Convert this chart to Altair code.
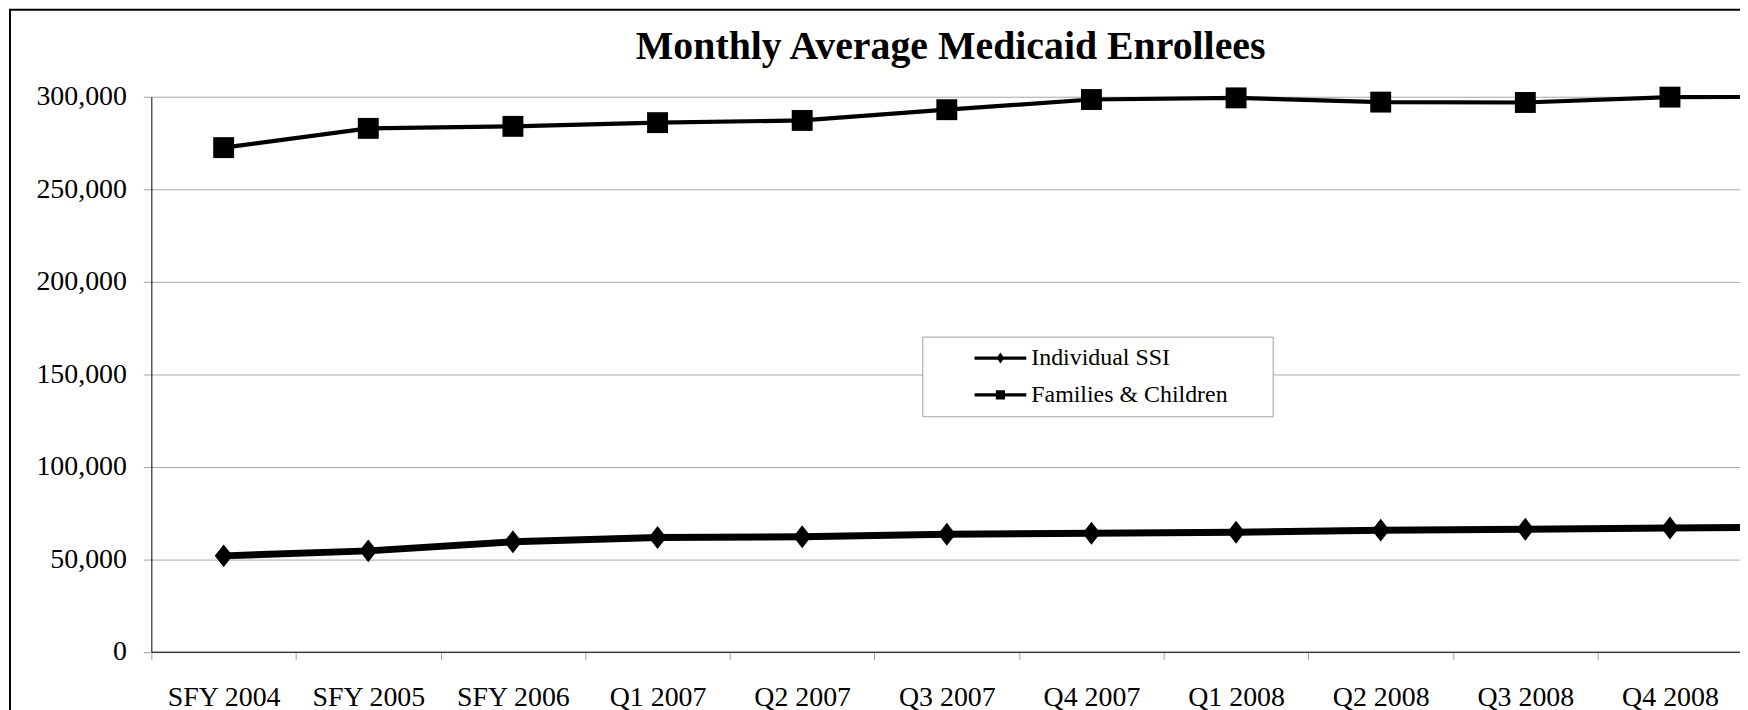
import altair as alt
import pandas as pd

# ---- data ----
periods = ["SFY 2004", "SFY 2005", "SFY 2006", "Q1 2007", "Q2 2007", "Q3 2007",
           "Q4 2007", "Q1 2008", "Q2 2008", "Q3 2008", "Q4 2008", "Q1 2009"]
individual_ssi = [51800, 54500, 59400, 61700, 62100, 63500,
                  64000, 64600, 65700, 66200, 66900, 67300]
families_children = [272500, 282900, 284000, 286000, 287200, 293000,
                     298500, 299400, 297100, 296900, 299800, 299900]
series_names = ["Individual SSI", "Families & Children"]
y_ticks = [0, 50000, 100000, 150000, 200000, 250000, 300000]
title_text = "Monthly Average Medicaid Enrollees"
hidden_label = "Q1 2009"  # lies beyond the visible edge of the chart

rows = []
for p, v in zip(periods, individual_ssi):
    rows.append({"period": p, "series": series_names[0], "value": v})
for p, v in zip(periods, families_children):
    rows.append({"period": p, "series": series_names[1], "value": v})
df = pd.DataFrame(rows)
one = pd.DataFrame({"t": [title_text]})

FONT = "Liberation Serif"
W, H = 1596, 557.5
X_RANGE = 1743.6  # 12 category bands of ~145.3px; the last one runs past the page edge

# marker / legend-symbol paths
diamond = "M0,-1L0.78,0L0,1L-0.78,0Z"
square = "M-0.913,-0.913L0.913,-0.913L0.913,0.913L-0.913,0.913Z"
leg_diamond = ("M-2.6,-0.16L2.6,-0.16L2.6,0.16L-2.6,0.16Z"
               "M0,-0.55L0.38,0L0,0.55L-0.38,0Z")
leg_square = ("M-2.6,-0.16L2.6,-0.16L2.6,0.16L-2.6,0.16Z"
              "M-0.46,-0.46L0.46,-0.46L0.46,0.46L-0.46,0.46Z")

x_enc = alt.X(
    "period:N", sort=periods, bandPosition=0.5,
    scale=alt.Scale(type="band", domain=periods, range=[0, X_RANGE],
                    paddingInner=0, paddingOuter=0),
    axis=alt.Axis(title=None, labelAngle=0, labelFont=FONT, labelFontSize=28,
                  labelColor="black", labelPadding=24, tickBand="extent",
                  tickSize=8, tickColor="#a0a0a0", domainColor="black",
                  domainWidth=1, grid=False, labelOverlap=False,
                  labelExpr=f"datum.label == '{hidden_label}' ? '' : datum.label"),
)
y_enc = alt.Y(
    "value:Q",
    scale=alt.Scale(domain=[0, 300000], nice=False, zero=True),
    axis=alt.Axis(title=None, values=y_ticks, format=",.0f", labelFont=FONT,
                  labelFontSize=28, labelColor="black", labelPadding=17,
                  tickSize=8, tickColor="#a0a0a0", domainColor="black",
                  domainWidth=1, grid=True, gridColor="#a6a6a6", gridWidth=1),
)

border = alt.Chart(one).mark_rect(fill="white", fillOpacity=0, stroke="black",
                                   strokeWidth=2).encode(
    x=alt.value(-142), x2=alt.value(1800), y=alt.value(-87.5), y2=alt.value(740)
)

legend_box = alt.Chart(one).mark_rect(fill="white", stroke="#a0a0a0",
                                       strokeWidth=1).encode(
    x=alt.value(775), x2=alt.value(1127), y=alt.value(241.5), y2=alt.value(321.5)
)

title = alt.Chart(one).mark_text(font=FONT, fontSize=40, fontWeight="bold",
                                 color="black", align="center",
                                 baseline="alphabetic").encode(
    text="t:N", x=alt.value(803), y=alt.value(-38)
)

lines = alt.Chart(df).mark_line(color="black").encode(
    x=x_enc, y=y_enc, detail="series:N",
    strokeWidth=alt.StrokeWidth("series:N",
                                scale=alt.Scale(domain=series_names, range=[7, 4.2]),
                                legend=None),
)

points = alt.Chart(df).mark_point(filled=True, color="black", opacity=1,
                                  size=529, strokeWidth=0).encode(
    x=x_enc, y=y_enc,
    shape=alt.Shape("series:N",
                    scale=alt.Scale(domain=series_names, range=[diamond, square]),
                    legend=None),
)

legend_layer = alt.Chart(df).mark_point(filled=True, color="black", opacity=0,
                                        size=400).encode(
    x=x_enc, y=y_enc,
    shape=alt.Shape("series:N",
                    scale=alt.Scale(domain=series_names,
                                    range=[leg_diamond, leg_square]),
                    legend=alt.Legend(title=None, orient="none",
                                      legendX=841, legendY=250.5,
                                      labelFont=FONT, labelFontSize=24,
                                      labelColor="black", labelLimit=400,
                                      symbolSize=400, symbolFillColor="black",
                                      symbolStrokeWidth=0, symbolOpacity=1,
                                      rowPadding=13, padding=0, labelOffset=19)),
)

chart = alt.layer(border, legend_box, lines, points, legend_layer, title).resolve_scale(
    shape="independent"
).properties(
    width=W, height=H,
    autosize=alt.AutoSizeParams(type="none"),
    padding={"left": 144, "top": 87.5, "right": 0, "bottom": 72},
    background="white",
).configure_view(stroke="transparent")

chart.save("out.html", embed_options={"renderer": "svg", "actions": False})
